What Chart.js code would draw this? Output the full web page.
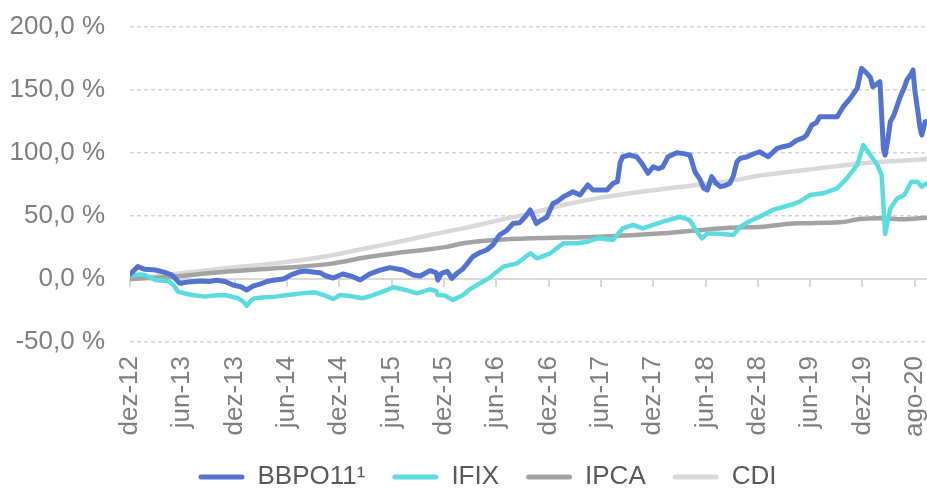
<!DOCTYPE html>
<html>
<head>
<meta charset="utf-8">
<script src="https://cdn.jsdelivr.net/npm/chart.js@4.4.1/dist/chart.umd.min.js"></script>
<style>
    html, body { margin: 0; padding: 0; background: #fff; }
    #wrap { width: 927px; height: 490px; }
</style>
</head>
<body>
<div id="wrap"><canvas id="retornoChart" width="927" height="490"></canvas></div>
<script>
// x = position on the time axis, in "months" from dez-12 (one label every 6)
const tickPos = [0, 6, 12, 18, 24, 30, 36, 42, 48, 54, 60, 66, 72, 78, 84, 90];
const tickLabels = ["dez-12", "jun-13", "dez-13", "jun-14", "dez-14", "jun-15", "dez-15", "jun-16",
    "dez-16", "jun-17", "dez-17", "jun-18", "dez-18", "jun-19", "dez-19", "ago-20"];
const yTicks = [-50, 0, 50, 100, 150, 200];

const bbpoX = [0, 0.9, 1.7, 2.9, 4.0, 4.8, 5.7, 7.0, 8.1, 9.1, 10.0, 10.9, 11.8, 12.7, 13.4, 14.1, 14.9, 15.7, 16.6, 17.6,
    18.6, 19.5, 20.1, 21.2, 21.8, 22.4, 23.3, 24.4, 25.5, 26.4, 27.5, 28.7, 29.8, 31.3, 32.5, 33.3, 34.4, 35.1, 35.3, 35.7,
    36.4, 36.9, 37.5, 38.1, 38.7, 39.3, 40.1, 40.9, 41.6, 42.4, 43.2, 43.9, 44.7, 45.4, 45.9, 46.6, 47.1, 47.8, 48.5, 49.1,
    49.7, 50.1, 50.8, 51.6, 52.2, 52.5, 53.1, 53.9, 54.7, 55.4, 55.9, 56.2, 56.5, 57.3, 58.1, 58.7, 59.4, 60.0, 60.6, 61.1,
    61.7, 62.7, 63.5, 64.2, 64.8, 65.4, 65.8, 66.2, 66.7, 67.2, 67.7, 68.2, 68.8, 69.2, 69.6, 70.0, 70.8, 71.4, 72.2, 72.8,
    73.2, 74.2, 74.9, 75.7, 76.5, 77.2, 77.6, 78.2, 78.7, 79.1, 80.3, 81.1, 81.8, 82.6, 83.4, 83.9, 84.5, 84.9, 85.2, 85.7,
    86.0, 86.4, 86.6, 86.9, 87.2, 87.6, 88.0, 88.3, 88.8, 89.1, 89.6, 89.8, 90.0, 90.3, 90.6, 90.8, 91.2, 91.4];
const bbpoY = [3.7, 9.8, 7.7, 7.1, 5.3, 3.2, -3.4, -2.1, -1.6, -2.0, -1.0, -2.0, -4.8, -6.1, -8.7, -5.6, -4.0, -2.0, -0.8, 0.0,
    3.7, 5.8, 6.3, 5.3, 5.0, 2.6, 0.8, 4.0, 2.0, -0.8, 4.0, 7.0, 9.0, 7.1, 3.2, 2.4, 6.6, 5.0, -0.8, 4.5,
    6.0, 0.5, 4.5, 7.5, 12.4, 17.7, 21.0, 23.0, 27.0, 35.0, 38.5, 44.0, 44.7, 50.0, 54.8, 44.0, 46.5, 49.0, 60.0, 62.0,
    65.3, 66.7, 69.3, 66.7, 72.0, 74.6, 70.6, 70.6, 70.6, 76.0, 77.2, 92.0, 97.0, 98.4, 97.0, 91.8, 83.9, 89.0, 87.5, 89.0,
    97.0, 100.2, 99.5, 98.4, 85.0, 78.6, 72.0, 70.6, 81.2, 76.0, 73.3, 74.0, 76.0, 82.0, 93.0, 95.8, 97.0, 99.0, 101.0, 98.5,
    97.0, 103.7, 105.0, 106.3, 110.3, 112.0, 114.3, 122.2, 124.0, 128.8, 128.8, 128.8, 136.8, 143.4, 151.4, 167.2, 163.3, 160.0, 152.6, 155.0,
    156.6, 103.7, 98.4, 110.0, 125.0, 130.0, 138.0, 144.0, 152.0, 158.0, 163.0, 165.9, 150.0, 135.5, 120.0, 114.3, 124.8, 125.0];

const ifixX = [0, 1.1, 1.7, 2.9, 4.4, 5.0, 5.5, 6.3, 7.1, 8.6, 9.7, 10.9, 12.4, 13.0, 13.4, 13.9, 14.3, 15.5, 16.6, 18.3,
    19.7, 21.2, 22.4, 23.3, 24.1, 25.2, 26.7, 27.8, 28.7, 30.2, 31.5, 32.9, 34.4, 35.1, 35.3, 36.1, 37.0, 38.2, 39.0, 39.8,
    41.3, 42.8, 44.4, 45.9, 46.7, 48.2, 49.7, 51.3, 52.5, 53.6, 55.4, 56.5, 57.7, 58.8, 60.0, 61.1, 63.1, 64.2, 65.0, 65.6,
    66.2, 68.0, 69.2, 70.0, 71.1, 72.2, 73.7, 75.7, 76.8, 78.0, 79.5, 81.1, 82.2, 83.4, 84.1, 84.9, 85.7, 86.2, 86.6, 87.2,
    88.0, 88.8, 89.6, 90.3, 90.8, 91.4];
const ifixY = [2.5, 3.5, 3.2, -0.8, -1.6, -5.0, -10.0, -11.5, -12.7, -14.0, -13.0, -12.7, -15.3, -18.0, -21.2, -17.0, -15.3, -14.5, -14.0, -12.5,
    -11.4, -10.6, -13.2, -15.9, -12.7, -13.5, -15.3, -13.0, -10.8, -6.6, -8.5, -11.4, -8.2, -9.5, -12.7, -13.0, -16.7, -12.7, -8.0, -4.8,
    1.3, 9.8, 12.4, 20.4, 16.4, 20.4, 28.3, 28.3, 29.6, 32.3, 31.0, 40.2, 42.9, 40.2, 42.9, 45.5, 49.4, 46.8, 37.5, 32.3,
    36.3, 35.7, 35.0, 41.5, 46.0, 49.4, 54.8, 58.7, 61.4, 66.7, 68.0, 72.0, 79.9, 90.5, 106.3, 98.4, 90.5, 82.5, 35.7, 56.1,
    64.0, 66.7, 77.2, 77.2, 73.3, 76.0];

const ipcaX = [0, 4.8, 10.9, 16.6, 19.5, 23.3, 27.1, 30.8, 34.4, 36.3, 38.2, 42.1, 45.9, 53.9, 61.1, 68.8, 72.6, 76.5, 81.4, 83.7, 86.0, 88.6, 91.4];
const ipcaY = [0, 1.8, 5.8, 8.5, 9.8, 12.4, 17.2, 20.9, 23.6, 25.5, 28.3, 31.0, 32.3, 33.6, 36.3, 40.7, 41.5, 44.2, 45.0, 47.6, 48.2, 47.4, 48.7];

const cdiX = [0, 4.8, 10.9, 16.6, 22.9, 27.1, 30.8, 34.4, 38.2, 42.1, 45.9, 49.7, 53.5, 57.3, 61.1, 65.0, 69.0, 72.6, 76.5, 80.3, 84.1, 87.9, 91.4];
const cdiY = [0, 3.7, 8.5, 12.4, 18.5, 24.4, 29.6, 34.9, 40.2, 46.3, 52.1, 58.7, 64.0, 68.0, 71.4, 74.6, 78.0, 82.5, 85.7, 89.0, 91.8, 93.7, 95.2];

const toPoints = (xs, ys) => xs.map((x, i) => ({ x: x, y: ys[i] }));

const xMax = 91.4;
const fontFamily = "'Liberation Sans', Arial, sans-serif";
const setTicks = axis => { axis.ticks = tickPos.map(v => ({ value: v })); };

// legend sits right of centre and low, like in the original (cropped) chart
const legendShift = {
    id: "legendShift",
    afterLayout(chart) {
        const lg = chart.legend;
        if (!lg) return;
        lg.left += 24; lg.right += 24;
        lg.top = 437; lg.bottom = 500; lg.height = 63;
    }
};

const ctx = document.getElementById("retornoChart").getContext("2d");
new Chart(ctx, {
    type: "line",
    data: {
        datasets: [
            { label: "BBPO11\u00b9", data: toPoints(bbpoX, bbpoY), borderColor: "#5473D0", borderWidth: 5, tension: 0 },
            { label: "IFIX", data: toPoints(ifixX, ifixY), borderColor: "#5BDCDE", borderWidth: 4.5, tension: 0 },
            { label: "IPCA", data: toPoints(ipcaX, ipcaY), borderColor: "#A3A3A3", borderWidth: 4.5, cubicInterpolationMode: "monotone" },
            { label: "CDI", data: toPoints(cdiX, cdiY), borderColor: "#D9D9D9", borderWidth: 4.5, cubicInterpolationMode: "monotone" }
        ]
    },
    plugins: [legendShift],
    options: {
        responsive: false,
        animation: false,
        layout: { padding: { top: 27, left: 0, right: 0, bottom: 0 } },
        elements: {
            point: { radius: 0 },
            line: { borderCapStyle: "round", borderJoinStyle: "round", fill: false }
        },
        plugins: {
            tooltip: { enabled: false },
            legend: {
                position: "bottom",
                maxHeight: 40,
                labels: {
                    color: "#595959",
                    font: { family: fontFamily, size: 26 },
                    boxWidth: 46,
                    boxHeight: 5,
                    padding: 27,
                    generateLabels: chart => Chart.defaults.plugins.legend.labels.generateLabels(chart).map(l => {
                        l.fillStyle = chart.data.datasets[l.datasetIndex].borderColor;
                        l.lineWidth = 0;
                        l.borderRadius = 2.5;
                        return l;
                    })
                }
            }
        },
        scales: {
            x: {
                type: "linear",
                position: "bottom",
                min: 0,
                max: xMax,
                afterBuildTicks: setTicks,
                afterFit: s => { s.height = 108; s.paddingLeft = 0; s.paddingRight = 0; },
                grid: { display: false, drawTicks: false },
                border: { display: false },
                ticks: {
                    color: "#7F7F7F",
                    font: { family: fontFamily, size: 26 },
                    minRotation: 90,
                    maxRotation: 90,
                    padding: 14,
                    autoSkip: false,
                    callback: v => tickLabels[tickPos.indexOf(v)]
                }
            },
            x0: {
                type: "linear",
                axis: "x",
                position: { y: 0 },
                min: 0,
                max: xMax,
                afterBuildTicks: setTicks,
                grid: { drawOnChartArea: false, drawTicks: true, tickLength: 7, color: "#D9D9D9", lineWidth: 2 },
                border: { display: true, color: "#D9D9D9", width: 2 },
                ticks: { display: false }
            },
            y: {
                min: -50,
                max: 200,
                afterBuildTicks: axis => { axis.ticks = yTicks.map(v => ({ value: v })); },
                afterFit: s => { s.width = 130; s.paddingTop = 0; s.paddingBottom = 0; },
                grid: {
                    drawTicks: false,
                    color: c => c.tick && c.tick.value === 0 ? "rgba(0,0,0,0)" : "#D4D4D4",
                    lineWidth: 1.5
                },
                border: { display: false, dash: [4, 3] },
                ticks: {
                    color: "#7F7F7F",
                    font: { family: fontFamily, size: 26 },
                    padding: 25,
                    callback: v => v.toFixed(1).replace(".", ",") + " %"
                }
            }
        }
    }
});
</script>
</body>
</html>
